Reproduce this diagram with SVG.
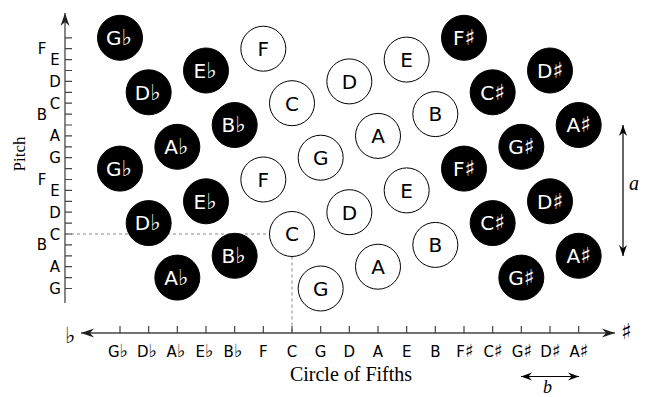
<svg xmlns="http://www.w3.org/2000/svg" width="645" height="397" viewBox="0 0 645 397">
<style>
.w circle{fill:#fff;stroke:#000;stroke-width:1}
.k circle{fill:#000;stroke:#000;stroke-width:1}
.nt{font-family:"DejaVu Sans",sans-serif;font-size:20px;text-anchor:middle}
.w .nt{fill:#000}
.k .nt{fill:#fff}
.acc{font-size:22px}
.ax{stroke:#444;stroke-width:1.3;fill:none}
.tk{stroke:#444;stroke-width:1.2}
.ds{stroke:#888;stroke-width:1;stroke-dasharray:3,3;fill:none}
.lb{font-family:"DejaVu Sans",sans-serif;font-size:15px;fill:#000;text-anchor:middle}
.lba{font-size:18px}
.sr{font-family:"Liberation Serif",serif;fill:#000}
.dim{stroke:#000;stroke-width:1.2;fill:none}
.sym{font-family:"DejaVu Sans",sans-serif;fill:#000}
</style>
<defs>
<marker id="ah" viewBox="-13 -5 13 10" refX="0" refY="0" markerWidth="13" markerHeight="10" markerUnits="userSpaceOnUse" orient="auto-start-reverse">
<path d="M0,0 L-13,-4.5 L-9,0 L-13,4.5 Z" fill="#222"/>
</marker>
<marker id="ah2" viewBox="-11 -5 11 10" refX="0" refY="0" markerWidth="11" markerHeight="10" markerUnits="userSpaceOnUse" orient="auto-start-reverse">
<path d="M0,0 L-11,-4 L-7.5,0 L-11,4 Z" fill="#000"/>
</marker>
</defs>
<rect width="645" height="397" fill="#fff"/>

<g id="connectors">
<line class="ds" x1="65" y1="234" x2="269.5" y2="234"/>
<line class="ds" x1="292" y1="256.5" x2="292" y2="333"/>
<line class="ax" x1="65" y1="303" x2="65" y2="13" marker-end="url(#ah)"/>
<line class="ax" x1="81" y1="333" x2="615" y2="333" marker-start="url(#ah)" marker-end="url(#ah)"/>
<line class="dim" x1="623" y1="125" x2="623" y2="256" marker-start="url(#ah2)" marker-end="url(#ah2)"/>
<line class="dim" x1="521" y1="376.5" x2="579" y2="376.5" marker-start="url(#ah2)" marker-end="url(#ah2)"/>
<g class="tk">
<path d="M65,288.5h7M65,277.6h7M65,266.7h7M65,255.8h7M65,244.9h7M65,234h7M65,223.1h7M65,212.2h7M65,201.3h7M65,190.4h7M65,179.5h7M65,168.6h7M65,157.7h7M65,146.8h7M65,135.9h7M65,125h7M65,114.1h7M65,103.2h7M65,92.3h7M65,81.4h7M65,70.5h7M65,59.6h7M65,48.7h7M65,37.8h7"/>
<path d="M120,326v7M148.67,326v7M177.33,326v7M206,326v7M234.67,326v7M263.33,326v7M292,326v7M320.67,326v7M349.33,326v7M378,326v7M406.67,326v7M435.33,326v7M464,326v7M492.67,326v7M521.33,326v7M550,326v7M578.67,326v7"/>
</g>
</g>

<g id="pitch-labels">
<text class="lb" x="55" y="294">G</text>
<text class="lb" x="55" y="272.2">A</text>
<text class="lb" x="42" y="250.4">B</text>
<text class="lb" x="55" y="239.5">C</text>
<text class="lb" x="55" y="217.7">D</text>
<text class="lb" x="55" y="195.9">E</text>
<text class="lb" x="42" y="185">F</text>
<text class="lb" x="55" y="163.2">G</text>
<text class="lb" x="55" y="141.4">A</text>
<text class="lb" x="42" y="119.6">B</text>
<text class="lb" x="55" y="108.7">C</text>
<text class="lb" x="55" y="86.9">D</text>
<text class="lb" x="55" y="65.1">E</text>
<text class="lb" x="42" y="54.2">F</text>
<text class="sr" font-size="17" text-anchor="middle" transform="translate(25,154) rotate(-90)">Pitch</text>
</g>

<g id="fifths-labels">
<text class="lb" x="118" y="357">G<tspan class="lba">♭</tspan></text>
<text class="lb" x="147" y="357">D<tspan class="lba">♭</tspan></text>
<text class="lb" x="176" y="357">A<tspan class="lba">♭</tspan></text>
<text class="lb" x="204.5" y="357">E<tspan class="lba">♭</tspan></text>
<text class="lb" x="233" y="357">B<tspan class="lba">♭</tspan></text>
<text class="lb" x="263.33" y="357">F</text>
<text class="lb" x="292" y="357">C</text>
<text class="lb" x="320.67" y="357">G</text>
<text class="lb" x="349.33" y="357">D</text>
<text class="lb" x="378" y="357">A</text>
<text class="lb" x="406.67" y="357">E</text>
<text class="lb" x="435.33" y="357">B</text>
<text class="lb" x="465" y="357">F<tspan class="lba">♯</tspan></text>
<text class="lb" x="493" y="357">C<tspan class="lba">♯</tspan></text>
<text class="lb" x="522" y="357">G<tspan class="lba">♯</tspan></text>
<text class="lb" x="550.5" y="357">D<tspan class="lba">♯</tspan></text>
<text class="lb" x="579" y="357">A<tspan class="lba">♯</tspan></text>
<text class="sr" font-size="20" text-anchor="middle" x="351" y="381">Circle of Fifths</text>
<text class="sym" font-size="22" x="65" y="343">♭</text>
<text class="sym" font-size="22" x="621" y="339">♯</text>
<text class="sr" font-size="20" font-style="italic" x="629" y="190">a</text>
<text class="sr" font-size="18" font-style="italic" x="543" y="393">b</text>
</g>

<g id="node-Gb-hi" class="k"><circle cx="120" cy="37.8" r="22.5"/><text class="nt" x="119" y="45.1">G<tspan class="acc">♭</tspan></text></g>
<g id="node-Gb-lo" class="k"><circle cx="120" cy="168.6" r="22.5"/><text class="nt" x="119" y="175.9">G<tspan class="acc">♭</tspan></text></g>
<g id="node-Db-hi" class="k"><circle cx="148.67" cy="92.3" r="22.5"/><text class="nt" x="147.67" y="99.6">D<tspan class="acc">♭</tspan></text></g>
<g id="node-Db-lo" class="k"><circle cx="148.67" cy="223.1" r="22.5"/><text class="nt" x="147.67" y="230.4">D<tspan class="acc">♭</tspan></text></g>
<g id="node-Ab-hi" class="k"><circle cx="177.33" cy="146.8" r="22.5"/><text class="nt" x="176.33" y="154.1">A<tspan class="acc">♭</tspan></text></g>
<g id="node-Ab-lo" class="k"><circle cx="177.33" cy="277.6" r="22.5"/><text class="nt" x="176.33" y="284.9">A<tspan class="acc">♭</tspan></text></g>
<g id="node-Eb-hi" class="k"><circle cx="206" cy="70.5" r="22.5"/><text class="nt" x="205" y="77.8">E<tspan class="acc">♭</tspan></text></g>
<g id="node-Eb-lo" class="k"><circle cx="206" cy="201.3" r="22.5"/><text class="nt" x="205" y="208.6">E<tspan class="acc">♭</tspan></text></g>
<g id="node-Bb-hi" class="k"><circle cx="234.67" cy="125" r="22.5"/><text class="nt" x="233.67" y="132.3">B<tspan class="acc">♭</tspan></text></g>
<g id="node-Bb-lo" class="k"><circle cx="234.67" cy="255.8" r="22.5"/><text class="nt" x="233.67" y="263.1">B<tspan class="acc">♭</tspan></text></g>
<g id="node-F-hi" class="w"><circle cx="263.33" cy="48.7" r="22.5"/><text class="nt" x="263.33" y="56">F</text></g>
<g id="node-F-lo" class="w"><circle cx="263.33" cy="179.5" r="22.5"/><text class="nt" x="263.33" y="186.8">F</text></g>
<g id="node-C-hi" class="w"><circle cx="292" cy="103.2" r="22.5"/><text class="nt" x="292" y="110.5">C</text></g>
<g id="node-C-lo" class="w"><circle cx="292" cy="234" r="22.5"/><text class="nt" x="292" y="241.3">C</text></g>
<g id="node-G-hi" class="w"><circle cx="320.67" cy="157.7" r="22.5"/><text class="nt" x="320.67" y="165">G</text></g>
<g id="node-G-lo" class="w"><circle cx="320.67" cy="288.5" r="22.5"/><text class="nt" x="320.67" y="295.8">G</text></g>
<g id="node-D-hi" class="w"><circle cx="349.33" cy="81.4" r="22.5"/><text class="nt" x="349.33" y="88.7">D</text></g>
<g id="node-D-lo" class="w"><circle cx="349.33" cy="212.2" r="22.5"/><text class="nt" x="349.33" y="219.5">D</text></g>
<g id="node-A-hi" class="w"><circle cx="378" cy="135.9" r="22.5"/><text class="nt" x="378" y="143.2">A</text></g>
<g id="node-A-lo" class="w"><circle cx="378" cy="266.7" r="22.5"/><text class="nt" x="378" y="274">A</text></g>
<g id="node-E-hi" class="w"><circle cx="406.67" cy="59.6" r="22.5"/><text class="nt" x="406.67" y="66.9">E</text></g>
<g id="node-E-lo" class="w"><circle cx="406.67" cy="190.4" r="22.5"/><text class="nt" x="406.67" y="197.7">E</text></g>
<g id="node-B-hi" class="w"><circle cx="435.33" cy="114.1" r="22.5"/><text class="nt" x="435.33" y="121.4">B</text></g>
<g id="node-B-lo" class="w"><circle cx="435.33" cy="244.9" r="22.5"/><text class="nt" x="435.33" y="252.2">B</text></g>
<g id="node-Fs-hi" class="k"><circle cx="464" cy="37.8" r="22.5"/><text class="nt" x="464" y="45.1">F<tspan class="acc">♯</tspan></text></g>
<g id="node-Fs-lo" class="k"><circle cx="464" cy="168.6" r="22.5"/><text class="nt" x="464" y="175.9">F<tspan class="acc">♯</tspan></text></g>
<g id="node-Cs-hi" class="k"><circle cx="492.67" cy="92.3" r="22.5"/><text class="nt" x="492.67" y="99.6">C<tspan class="acc">♯</tspan></text></g>
<g id="node-Cs-lo" class="k"><circle cx="492.67" cy="223.1" r="22.5"/><text class="nt" x="492.67" y="230.4">C<tspan class="acc">♯</tspan></text></g>
<g id="node-Gs-hi" class="k"><circle cx="521.33" cy="146.8" r="22.5"/><text class="nt" x="521.33" y="154.1">G<tspan class="acc">♯</tspan></text></g>
<g id="node-Gs-lo" class="k"><circle cx="521.33" cy="277.6" r="22.5"/><text class="nt" x="521.33" y="284.9">G<tspan class="acc">♯</tspan></text></g>
<g id="node-Ds-hi" class="k"><circle cx="550" cy="70.5" r="22.5"/><text class="nt" x="550" y="77.8">D<tspan class="acc">♯</tspan></text></g>
<g id="node-Ds-lo" class="k"><circle cx="550" cy="201.3" r="22.5"/><text class="nt" x="550" y="208.6">D<tspan class="acc">♯</tspan></text></g>
<g id="node-As-hi" class="k"><circle cx="578.67" cy="125" r="22.5"/><text class="nt" x="578.67" y="132.3">A<tspan class="acc">♯</tspan></text></g>
<g id="node-As-lo" class="k"><circle cx="578.67" cy="255.8" r="22.5"/><text class="nt" x="578.67" y="263.1">A<tspan class="acc">♯</tspan></text></g>
</svg>
